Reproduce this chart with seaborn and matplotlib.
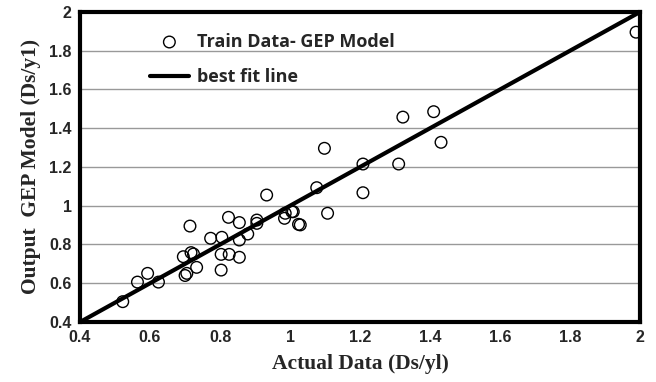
import matplotlib
matplotlib.use("Agg")
import matplotlib.pyplot as plt
import seaborn as sns
import pandas as pd

actual = [0.522, 0.564, 0.593, 0.624, 0.700, 0.705, 0.695, 0.714, 0.717, 0.724, 0.733,
          0.773, 0.805, 0.803, 0.803, 0.826, 0.824, 0.855, 0.855, 0.855, 0.879, 0.905,
          0.905, 0.933, 0.984, 0.986, 1.005, 1.009, 1.024, 1.029, 1.076, 1.098, 1.107,
          1.208, 1.208, 1.310, 1.322, 1.410, 1.431, 1.988]
predicted = [0.505, 0.606, 0.651, 0.606, 0.640, 0.651, 0.737, 0.895, 0.758, 0.751, 0.682,
             0.832, 0.837, 0.749, 0.668, 0.749, 0.940, 0.913, 0.823, 0.734, 0.854, 0.926,
             0.909, 1.055, 0.935, 0.961, 0.969, 0.969, 0.904, 0.901, 1.093, 1.296, 0.961,
             1.215, 1.067, 1.215, 1.457, 1.485, 1.327, 1.895]
line_x = [0.4, 2.0]
line_y = [0.4, 2.0]
ticks = [0.4, 0.6, 0.8, 1.0, 1.2, 1.4, 1.6, 1.8, 2.0]
tick_labels = ["0.4", "0.6", "0.8", "1", "1.2", "1.4", "1.6", "1.8", "2"]

sns.set_theme(style="white")
df = pd.DataFrame({"x": actual, "y": predicted})
line_df = pd.DataFrame({"x": line_x, "y": line_y})

fig = plt.figure(figsize=(6.56, 3.82), dpi=100)
ax = fig.add_axes([0.122, 0.157, 0.854, 0.812])

for t in ticks[1:-1]:
    ax.axhline(t, color="#999999", lw=1.0, zorder=0)

sns.scatterplot(data=df, x="x", y="y", ax=ax, marker="o", s=70,
                facecolors="none", edgecolor="black", linewidth=1.0,
                label="Train Data- GEP Model", zorder=3)
sns.lineplot(data=line_df, x="x", y="y", ax=ax, color="black", lw=3,
             label="best fit line", zorder=4)

ax.set_xlim(0.4, 2.0)
ax.set_ylim(0.4, 2.0)
ax.set_xticks(ticks)
ax.set_xticklabels(tick_labels)
ax.set_yticks(ticks)
ax.set_yticklabels(tick_labels)
for lab in ax.get_xticklabels() + ax.get_yticklabels():
    lab.set_fontfamily("Liberation Sans")
    lab.set_fontweight("bold")
    lab.set_fontsize(11.5)
ax.tick_params(axis="both", length=0, pad=6)

for sp in ax.spines.values():
    sp.set_visible(True)
    sp.set_color("black")
    sp.set_linewidth(3)

ax.set_xlabel("Actual Data (Ds/yl)", fontfamily="Liberation Serif",
              fontweight="bold", fontsize=15.5, labelpad=6)
ax.set_ylabel("Output  GEP Model (Ds/y1)", fontfamily="Liberation Serif",
              fontweight="bold", fontsize=15.5, labelpad=6)

leg = ax.legend(loc="upper left", bbox_to_anchor=(0.095, 0.985), frameon=False,
                prop={"family": "Open Sans", "weight": "bold", "size": 13},
                handlelength=2.2, handletextpad=0.45, labelspacing=0.95)

fig.savefig("out.png", dpi=100)
